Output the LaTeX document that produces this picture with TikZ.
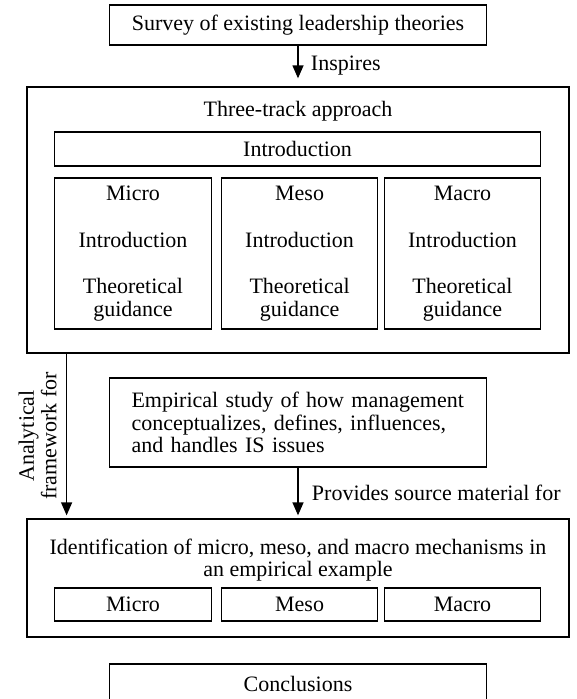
\documentclass[tikz,border=0pt]{standalone}
\usepackage{fontspec}
\setmainfont{Liberation Serif}
\usetikzlibrary{arrows.meta}
\tikzset{box/.style={draw, line width=1.3pt, inner sep=0pt},
  arr/.style={line width=1.3pt, -{Triangle[length=13pt,width=11pt]}}}
\begin{document}
\begin{tikzpicture}[x=1pt,y=-1pt,font=\fontsize{22}{22.5}\selectfont]
\path[use as bounding box, clip] (0,0) rectangle (576,699);
\node[box, minimum width=377, minimum height=40] (survey) at (298,25){Survey of existing leadership theories};
\node[box, minimum width=542, minimum height=266] (track) at (298,220){};
\node (tracktitle) at (298,111){Three-track approach};
\node[box, minimum width=486, minimum height=34] (intro) at (297.6,149){Introduction};
\node[box, minimum width=157, minimum height=151, align=center] (tmicro) at (133,253.5){Micro\\[24pt]Introduction\\[24pt]Theoretical\\guidance};
\node[box, minimum width=156, minimum height=151, align=center] (tmeso) at (299.6,253.5){Meso\\[24pt]Introduction\\[24pt]Theoretical\\guidance};
\node[box, minimum width=156, minimum height=151, align=center] (tmacro) at (462.5,253.5){Macro\\[24pt]Introduction\\[24pt]Theoretical\\guidance};
\node[box, minimum width=377, minimum height=89, text width=333, align=left] (emp) at (298,422.5){Empirical study of how management\\conceptualizes, defines, influences,\\and handles IS issues};
\node[box, minimum width=542, minimum height=118] (ident) at (298,578){};
\node[align=center] (identtitle) at (298,560){Identification of micro, meso, and macro mechanisms in\\an empirical example};
\node[box, minimum width=157, minimum height=33] (emicro) at (133,604.5){Micro};
\node[box, minimum width=156, minimum height=33] (emeso) at (299.6,604.5){Meso};
\node[box, minimum width=156, minimum height=33] (emacro) at (462.5,604.5){Macro};
\node[box, minimum width=377, minimum height=40] (concl) at (298,684){Conclusions};
\draw[arr, shorten >=8pt] (survey) -- (track) node[midway, right, xshift=9pt]{Inspires};
\draw[arr, shorten >=3pt] (emp) -- (ident) node[midway, right, xshift=10pt]{Provides source material for};
\draw[arr, shorten >=3pt] ([xshift=-231.4pt]track.south) -- ([xshift=-231.4pt]ident.north) node[midway, rotate=90, anchor=south, align=center, yshift=6pt]{Analytical\\framework for};
\end{tikzpicture}
\end{document}
